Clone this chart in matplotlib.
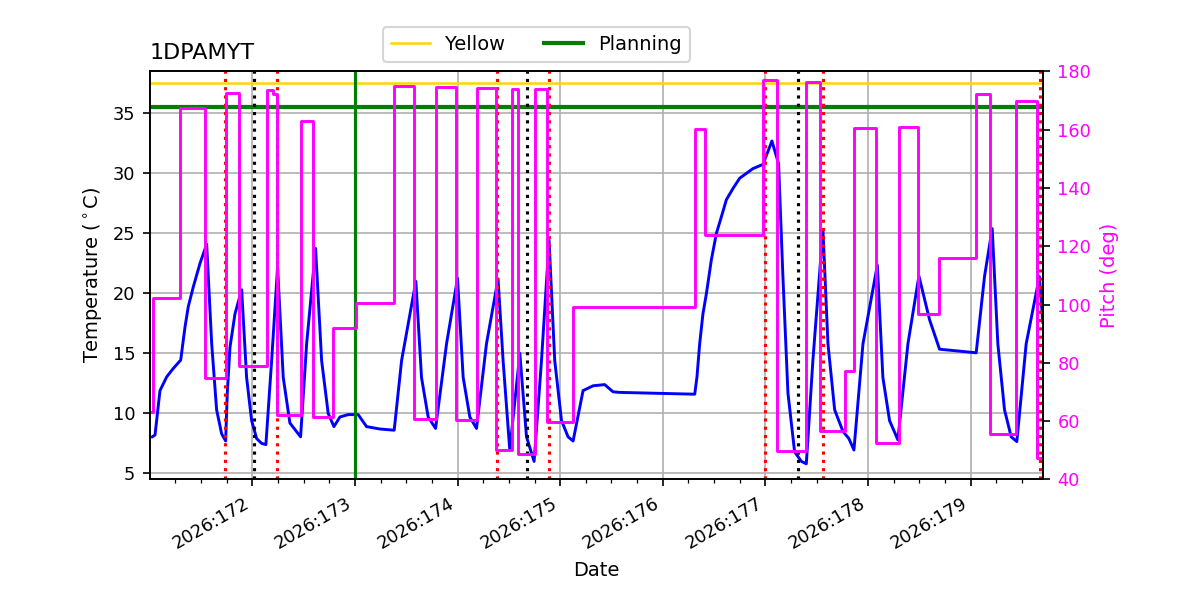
import matplotlib
matplotlib.use('Agg')
import matplotlib.pyplot as plt
import matplotlib.dates as mdates
import pandas as pd

plt.rcParams['font.size'] = 8

# day-of-year 2026 (fractional) and temperature (degC)
temp_doy = [171.026, 171.053, 171.101, 171.167, 171.231, 171.303, 171.345, 171.377, 171.426,
            171.491, 171.556, 171.605, 171.653, 171.702, 171.741, 171.757, 171.783, 171.832,
            171.897, 171.945, 171.994, 172.043, 172.092, 172.133, 172.189, 172.247, 172.302,
            172.367, 172.471, 172.530, 172.617, 172.676, 172.740, 172.796, 172.854, 172.935,
            173.032, 173.114, 173.243, 173.383, 173.455, 173.594, 173.649, 173.714, 173.786,
            173.893, 174.000, 174.055, 174.120, 174.185, 174.282, 174.395, 174.444, 174.509,
            174.607, 174.672, 174.746, 174.818, 174.892, 174.947, 175.013, 175.077, 175.126,
            175.223, 175.320, 175.434, 175.515, 175.580, 176.311, 176.333, 176.359, 176.391,
            176.425, 176.473, 176.522, 176.571, 176.619, 176.684, 176.749, 176.814, 176.878,
            176.976, 177.063, 177.128, 177.170, 177.219, 177.284, 177.350, 177.398, 177.462,
            177.560, 177.609, 177.674, 177.755, 177.813, 177.862, 177.950, 178.090, 178.144,
            178.209, 178.290, 178.388, 178.495, 178.599, 178.696, 179.053, 179.134, 179.209,
            179.264, 179.329, 179.394, 179.449, 179.540, 179.669, 179.702]
temp = [8.05, 8.2, 11.9, 13.05, 13.75, 14.44, 17.2, 18.9, 20.55,
        22.5, 24.1, 15.8, 10.3, 8.3, 7.7, 11.7, 15.5, 18.3,
        20.3, 13.0, 9.4, 7.9, 7.5, 7.4, 14.4, 22.2, 13.0,
        9.2, 8.05, 15.8, 23.75, 14.4, 10.0, 8.9, 9.7, 9.9,
        9.9, 8.9, 8.7, 8.6, 14.4, 21.0, 13.0, 9.7, 8.75,
        15.8, 21.25, 13.0, 9.7, 8.75, 15.8, 21.2, 14.4, 6.95,
        15.0, 8.05, 6.0, 14.4, 24.4, 14.4, 9.4, 8.05, 7.7,
        11.9, 12.3, 12.4, 11.8, 11.75, 11.6, 13.05, 15.8, 18.3,
        20.0, 22.8, 25.0, 26.4, 27.8, 28.75, 29.6, 30.0, 30.4,
        30.75, 32.7, 30.8, 21.4, 11.7, 6.8, 6.0, 5.8, 14.4,
        25.3, 15.8, 10.3, 8.5, 7.9, 6.95, 15.8, 22.35, 13.0,
        9.4, 7.8, 15.8, 21.45, 17.8, 15.35, 15.05, 21.4, 25.4,
        15.8, 10.3, 8.05, 7.65, 15.8, 21.4, 17.6]

# pitch attitude steps (start of each dwell, deg)
pitch_doy = [171.026, 171.030, 171.296, 171.542, 171.741, 171.871, 172.140, 172.200, 172.238,
             172.474, 172.594, 172.783, 173.007, 173.380, 173.577, 173.789, 173.984, 174.185,
             174.373, 174.527, 174.591, 174.754, 174.874, 175.127, 176.311, 176.408, 176.976,
             177.116, 177.398, 177.535, 177.772, 177.862, 178.073, 178.297, 178.485, 178.689,
             179.053, 179.183, 179.443, 179.644, 179.702]
pitch = [63.2, 102.4, 167.3, 74.9, 172.6, 78.9, 173.6, 172.4, 62.1,
         162.9, 61.5, 92.0, 100.7, 174.9, 60.7, 174.7, 60.3, 174.3,
         50.1, 174.1, 48.7, 173.9, 59.6, 99.2, 160.2, 123.8, 177.0,
         49.8, 176.4, 56.7, 77.2, 160.6, 52.6, 160.9, 96.7, 116.0,
         172.4, 55.5, 170.0, 47.2, 47.2]

red_events = [171.73, 172.24, 174.38, 174.89, 177.00, 177.56, 179.67]
black_events = [172.02, 174.68, 177.32]
planning_start = 173.0
yellow_limit = 37.5
planning_limit = 35.5


def to_date(d):
    return pd.Timestamp('2026-01-01') + pd.to_timedelta(pd.Series(d) - 1, unit='D')


fig, ax = plt.subplots(figsize=(8, 4), dpi=150)
fig.subplots_adjust(left=0.125, right=0.869, bottom=0.201, top=0.881)

ax.plot(to_date(temp_doy), temp, color='b', lw=1.4)
ax.axhline(yellow_limit, color='gold', lw=1.2, label='Yellow')
ax.axhline(planning_limit, color='g', lw=2, label='Planning')
for d in to_date(red_events):
    ax.axvline(d, color='r', ls=':', lw=1.5)
for d in to_date(black_events):
    ax.axvline(d, color='k', ls=':', lw=1.5)
ax.axvline(to_date([planning_start])[0], color='g', lw=1.5)

ax.set_ylim(4.5, 38.5)
ax.set_xlim(to_date([171.004, 179.702]))
ax.xaxis.set_major_locator(mdates.DayLocator())
ax.xaxis.set_minor_locator(mdates.HourLocator(byhour=range(0, 24, 6)))
ax.xaxis.set_major_formatter(mdates.DateFormatter('%Y:%j'))
ax.tick_params(labelsize=8.5)
ax.grid(True)
ax.set_xlabel('Date', fontsize=9.3)
ax.set_ylabel(r'Temperature ($^\circ$C)', fontsize=9.3)
ax.set_title('1DPAMYT', loc='left', fontsize=10.7)
for lbl in ax.get_xticklabels():
    lbl.set_rotation(30)
    lbl.set_ha('right')

ax2 = ax.twinx()
ax2.step(to_date(pitch_doy), pitch, where='post', color='magenta', lw=1.4)
ax2.set_ylim(40, 180)
ax2.set_ylabel('Pitch (deg)', color='magenta', fontsize=9.3)
ax2.tick_params(axis='y', labelcolor='magenta', labelsize=8.5)

ax.legend(loc='lower center', bbox_to_anchor=(0.433, 1.0), ncol=2, fontsize=9.3)

fig.savefig('out.png')
